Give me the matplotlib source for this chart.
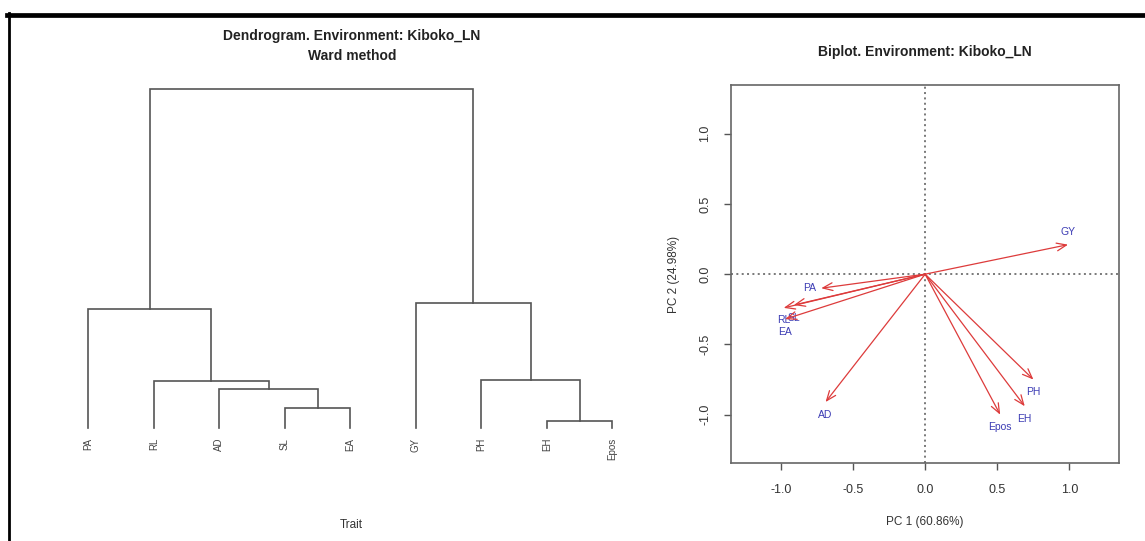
import matplotlib
matplotlib.use("Agg")
import matplotlib.pyplot as plt
from matplotlib.lines import Line2D

plt.rcParams['font.family'] = ['Liberation Sans', 'DejaVu Sans']

# dendrogram (R-style merge matrix: negative = leaf index, positive = earlier merge)
traits = ["PA", "RL", "AD", "SL", "EA", "GY", "PH", "EH", "Epos"]
merge_left = [-8, -4, -3, -2, -7, -1, -6, 6]
merge_right = [-9, -5, 2, 3, 1, 4, 5, 7]
merge_height = [0.17, 0.48, 0.92, 1.12, 1.14, 2.81, 2.95, 8.0]

# biplot loadings
var_names = ["GY", "PA", "RL", "SL", "EA", "AD", "Epos", "EH", "PH"]
pc1 = [0.99, -0.72, -0.98, -0.91, -0.97, -0.69, 0.52, 0.69, 0.75]
pc2 = [0.21, -0.10, -0.24, -0.22, -0.32, -0.91, -1.00, -0.94, -0.75]
label_side = [3, 2, 1, 1, 1, 1, 1, 1, 1]   # R pos: 1 below, 2 left, 3 above
ticks = [-1.0, -0.5, 0.0, 0.5, 1.0]
tick_labels = ["-1.0", "-0.5", "0.0", "0.5", "1.0"]

W, H = 1145, 541
fig = plt.figure(figsize=(W / 100, H / 100), dpi=100)

# ---- dendrogram ----
ax1 = fig.add_axes([67.4 / W, 1 - 441.6 / H, 566 / W, 366.2 / H])
line_col = "#555555"
nodes = {}
for i in range(len(traits)):
    nodes[-(i + 1)] = (i + 1, 0.0)
for k in range(len(merge_height)):
    xa, ya = nodes[merge_left[k]]
    xb, yb = nodes[merge_right[k]]
    h = merge_height[k]
    ax1.plot([xa, xa, xb, xb], [ya, h, h, yb], color=line_col, lw=1.2,
             solid_joinstyle='miter')
    nodes[k + 1] = ((xa + xb) / 2, h)
for i, t in enumerate(traits):
    ax1.annotate(t, (i + 1, 0), xytext=(0, -7), textcoords='offset points',
                 rotation=90, ha='center', va='top', fontsize=7, color="#444444")
ax1.set_xlim(0.68, len(traits) + 0.32)
ax1.set_ylim(-0.32, 8.32)
ax1.axis('off')

fig.text(352 / W, 1 - 36 / H, "Dendrogram. Environment: Kiboko_LN",
         ha='center', va='center', fontsize=10, fontweight='bold', color="#222222")
fig.text(352 / W, 1 - 56 / H, "Ward method",
         ha='center', va='center', fontsize=10, fontweight='bold', color="#222222")
fig.text(351 / W, 1 - 525 / H, "Trait", ha='center', va='center',
         fontsize=8.5, color="#333333")

# ---- biplot ----
ax2 = fig.add_axes([731 / W, 1 - 463.3 / H, 388.3 / W, 378.3 / H])
ax2.set_xlim(-1.345, 1.345)
ax2.set_ylim(-1.346, 1.346)
ax2.axhline(0, color="#555555", lw=1.1, ls=(0, (1.3, 2.2)))
ax2.axvline(0, color="#555555", lw=1.1, ls=(0, (1.3, 2.2)))

arrow_col = "#dd3b3b"
text_col = "#3c3cb4"
offsets = {1: ((0, -9), 'center', 'center'),
           2: ((-4, 0), 'right', 'center'),
           3: ((0, 9), 'center', 'center')}
for name, x, y, side in zip(var_names, pc1, pc2, label_side):
    ax2.annotate('', xy=(x, y), xytext=(0, 0),
                 arrowprops=dict(arrowstyle='->,head_length=0.7,head_width=0.28',
                                 color=arrow_col, lw=0.9, mutation_scale=10,
                                 shrinkA=0, shrinkB=0))
    off, ha, va = offsets[side]
    ax2.annotate(name, (x, y), xytext=off, textcoords='offset points',
                 ha=ha, va=va, fontsize=7.5, color=text_col)

ax2.set_xticks(ticks)
ax2.set_xticklabels(tick_labels)
ax2.set_yticks(ticks)
ax2.set_yticklabels(tick_labels, rotation=90, va='center')
ax2.tick_params(direction='out', length=5, width=1, color="#555555",
                labelsize=9, labelcolor="#333333")
ax2.tick_params(axis='x', pad=10)
ax2.tick_params(axis='y', pad=9)
for sp in ax2.spines.values():
    sp.set_color("#666666")
    sp.set_linewidth(1.2)
ax2.set_xlabel("PC 1 (60.86%)", fontsize=8.5, color="#333333", labelpad=14)
ax2.set_ylabel("PC 2 (24.98%)", fontsize=8.5, color="#333333", labelpad=14)
fig.text(925 / W, 1 - 52 / H, "Biplot. Environment: Kiboko_LN",
         ha='center', va='center', fontsize=10, fontweight='bold', color="#222222")

# ---- black frame (top and left edges) ----
fig.add_artist(Line2D([7 / W, 1.0], [1 - 14.5 / H] * 2, color='black', lw=3.4))
fig.add_artist(Line2D([8.6 / W] * 2, [0.0, 1 - 13 / H], color='black', lw=2.0))

fig.savefig("out.png", dpi=100, facecolor='white')
